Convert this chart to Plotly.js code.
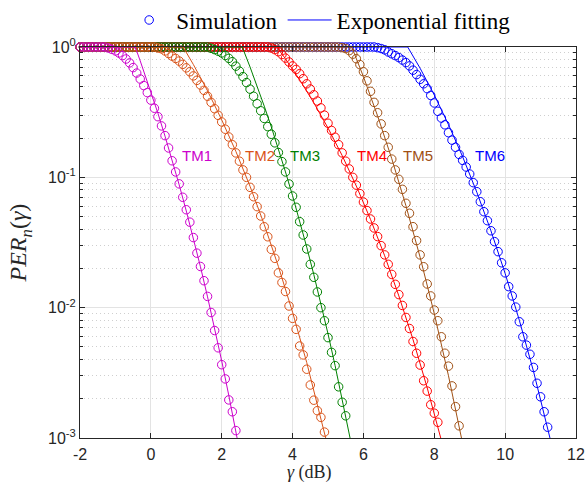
<!DOCTYPE html>
<html><head><meta charset="utf-8">
<script src="https://cdn.plot.ly/plotly-3.0.1.min.js"></script>
<style>html,body{margin:0;padding:0;background:#fff}</style>
</head><body>
<div id="chart" style="width:587px;height:484px"></div>
<script>
// SNR grid (dB) of the simulation points
const gammaDB = [
 -2,-1.9,-1.8,-1.7,-1.6,-1.5,-1.4,-1.3,-1.2,-1.1,
 -1,-0.9,-0.8,-0.7,-0.6,-0.5,-0.4,-0.3,-0.2,-0.1,
 0,0.1,0.2,0.3,0.4,0.5,0.6,0.7,0.8,0.9,
 1,1.1,1.2,1.3,1.4,1.5,1.6,1.7,1.8,1.9,
 2,2.1,2.2,2.3,2.4,2.5,2.6,2.7,2.8,2.9,
 3,3.1,3.2,3.3,3.4,3.5,3.6,3.7,3.8,3.9,
 4,4.1,4.2,4.3,4.4,4.5,4.6,4.7,4.8,4.9,
 5,5.1,5.2,5.3,5.4,5.5,5.6,5.7,5.8,5.9,
 6,6.1,6.2,6.3,6.4,6.5,6.6,6.7,6.8,6.9,
 7,7.1,7.2,7.3,7.4,7.5,7.6,7.7,7.8,7.9,
 8,8.1,8.2,8.3,8.4,8.5,8.6,8.7,8.8,8.9,
 9,9.1,9.2,9.3,9.4,9.5,9.6,9.7,9.8,9.9,
 10,10.1,10.2,10.3,10.4,10.5,10.6,10.7,10.8,10.9,
 11,11.1,11.2];

// Simulated PER (one value per grid point, starting at -2 dB)
const simTM1 = [
 1,1,1,1,1,1,1,1,
 0.982,0.959,0.933,0.900,0.859,0.809,0.755,0.695,0.631,0.568,
 0.506,0.447,0.391,0.339,0.292,0.248,0.209,0.168,0.134,0.110,
 0.0891,0.0703,0.0564,0.0453,0.0345,0.0262,0.0207,0.0161,0.0122,0.00918,
 0.00668,0.00492,0.00365,0.00284,0.00196,0.00159,0.00114];
const simTM2 = [
 1,1,1,1,1,1,1,1,1,1,
 1,1,1,1,1,1,1,1,1,1,
 1,1,
 0.982,0.968,0.933,0.891,0.851,0.817,0.780,0.736,0.692,0.646,
 0.600,0.555,0.511,0.465,0.419,0.376,0.336,0.299,0.266,0.234,
 0.204,0.178,0.154,0.133,0.114,0.100,0.0838,0.0710,0.0596,0.0505,
 0.0418,0.0350,0.0280,0.0239,0.0185,0.0156,0.0133,0.0103,0.00828,0.00682,
 0.00508,0.00434,0.00337,0.00255,0.00195,0.00162,0.00144,0.00111];
const simTM3 = [
 1,1,1,1,1,1,1,1,1,1,
 1,1,1,1,1,1,1,1,1,1,
 1,1,1,1,1,1,1,1,1,1,
 1,1,1,1,1,1,1,
 0.977,0.955,0.929,0.900,0.861,0.818,0.771,0.713,0.653,0.592,
 0.533,0.475,0.419,0.367,0.324,0.283,0.245,0.214,0.184,0.155,
 0.132,0.110,0.0889,0.0719,0.0589,0.0457,0.0361,0.0282,0.0215,0.0171,
 0.0132,0.0100,0.00794,0.00589,0.00454,0.00359,0.00247,0.00188,0.00148];
const simTM4 = [
 1,1,1,1,1,1,1,1,1,1,
 1,1,1,1,1,1,1,1,1,1,
 1,1,1,1,1,1,1,1,1,1,
 1,1,1,1,1,1,1,1,1,1,
 1,1,1,1,1,1,1,1,1,1,
 1,1,1,1,
 0.982,0.955,0.920,0.875,0.822,0.767,0.716,0.673,0.624,0.571,
 0.522,0.476,0.430,0.385,0.341,0.300,0.260,0.229,0.203,0.178,
 0.154,0.133,0.116,0.100,0.0871,0.0750,0.0646,0.0556,0.0479,0.0409,
 0.0351,0.0299,0.0254,0.0215,0.0180,0.0151,0.0126,0.0104,0.00841,0.00692,
 0.00550,0.00447,0.00363,0.00275,0.00229,0.00180,0.00155,0.00132];
const simTM5 = [
 1,1,1,1,1,1,1,1,1,1,
 1,1,1,1,1,1,1,1,1,1,
 1,1,1,1,1,1,1,1,1,1,
 1,1,1,1,1,1,1,1,1,1,
 1,1,1,1,1,1,1,1,1,1,
 1,1,1,1,1,1,1,1,1,1,
 1,1,1,1,1,1,1,1,1,1,
 1,1,1,1,
 0.989,0.973,0.938,0.881,0.813,0.733,0.646,0.550,0.457,0.376,
 0.313,0.257,0.209,0.170,0.138,0.114,0.0966,0.0809,0.0632,0.0530,
 0.0418,0.0327,0.0254,0.0206,0.0152,0.0123,0.00959,0.00794,0.00598,0.00447,
 0.00356,0.00251,0.00174,0.00124];
const simTM6 = [
 1,1,1,1,1,1,1,1,1,1,
 1,1,1,1,1,1,1,1,1,1,
 1,1,1,1,1,1,1,1,1,1,
 1,1,1,1,1,1,1,1,1,1,
 1,1,1,1,1,1,1,1,1,1,
 1,1,1,1,1,1,1,1,1,1,
 1,1,1,1,1,1,1,1,1,1,
 1,1,1,1,1,1,1,1,1,1,
 1,1,1,1,
 0.989,0.973,0.951,0.916,0.887,0.859,0.830,0.794,0.759,0.716,
 0.664,0.614,0.565,0.522,0.479,0.425,0.372,0.321,0.285,0.253,
 0.220,0.193,0.170,0.150,0.135,0.120,0.106,0.0910,0.0776,0.0650,
 0.0545,0.0465,0.0389,0.0321,0.0269,0.0221,0.0185,0.0145,0.0123,0.0101,
 0.00780,0.00598,0.00516,0.00439,0.00348,0.00263,0.00207,0.00159,0.00121];

// Exponential fitting curves
const fitXTM1 = [-2,-0.44,-0.3,-0.2,0,0.2,0.4,0.6,0.8,1.0,1.2,1.4,1.6,1.8,2.0,2.2,2.4,2.5];
const fitYTM1 = [1,1,0.782,0.655,0.454,0.310,0.207,0.136,0.0875,0.0552,0.0341,0.0206,0.0121,0.00697,0.0039,0.00212,0.00112,0.00081];
const fitXTM2 = [-2,0.91,1.2,1.6,2.0,2.4,2.8,3.2,3.6,4.0,4.4,4.8,5.0];
const fitYTM2 = [1,1,0.734,0.461,0.276,0.158,0.0853,0.0435,0.0207,0.00923,0.00379,0.00143,0.00085];
const fitXTM3 = [-2,2.58,2.8,3.0,3.2,3.4,3.6,3.8,4.0,4.2,4.4,4.6,4.8,5.0,5.2,5.4,5.6,5.7];
const fitYTM3 = [1,1,0.702,0.501,0.352,0.244,0.166,0.110,0.0723,0.0463,0.0291,0.0179,0.0107,0.0063,0.0036,0.002,0.00109,0.00079];
const fitXTM4 = [-2,3.56,3.8,4.2,4.6,5.0,5.4,5.8,6.2,6.6,7.0,7.4,7.8,8.2];
const fitYTM4 = [1,1,0.811,0.560,0.373,0.239,0.147,0.0857,0.0476,0.025,0.0123,0.00569,0.00243,0.000959];
const fitXTM5 = [-2,5.67,6.0,6.4,6.8,7.2,7.6,8.0,8.4,8.8];
const fitYTM5 = [1,1,0.592,0.296,0.139,0.0605,0.0244,0.00899,0.00301,0.000906];
const fitXTM6 = [-2,7.25,7.6,8.0,8.4,8.8,9.2,9.6,10.0,10.4,10.8,11.2,11.4];
const fitYTM6 = [1,1,0.687,0.428,0.254,0.144,0.0769,0.0388,0.0183,0.00802,0.00325,0.00121,0.000711];

const modeNames = ['TM1','TM2','TM3','TM4','TM5','TM6'];
const modeColors = ['rgb(204,0,204)','rgb(217,83,25)','rgb(0,128,0)','rgb(255,0,0)','rgb(160,80,20)','rgb(0,0,255)'];
const labelX = [0.82, 2.61, 3.88, 5.77, 7.05, 9.08];
const labelLogY = -0.836;

const xTickVals = [-2,0,2,4,6,8,10,12];
const xTickText = ['-2','0','2','4','6','8','10','12'];
const yTickVals = [0.001,0.01,0.1,1];
const yTickText = ['10<sup>-3</sup>','10<sup>-2</sup>','10<sup>-1</sup>','10<sup>0</sup>'];
const yMinorVals = [0.002,0.003,0.004,0.005,0.006,0.007,0.008,0.009,
                    0.02,0.03,0.04,0.05,0.06,0.07,0.08,0.09,
                    0.2,0.3,0.4,0.5,0.6,0.7,0.8,0.9];

const sims = [simTM1,simTM2,simTM3,simTM4,simTM5,simTM6];
const fitsX = [fitXTM1,fitXTM2,fitXTM3,fitXTM4,fitXTM5,fitXTM6];
const fitsY = [fitYTM1,fitYTM2,fitYTM3,fitYTM4,fitYTM5,fitYTM6];

const traces = [];
for (let i = 5; i >= 0; i--) {
  traces.push({
    x: gammaDB.slice(0, sims[i].length), y: sims[i],
    type: 'scatter', mode: 'markers', cliponaxis: false,
    name: 'Simulation', showlegend: i === 5,
    marker: {symbol: 'circle-open', size: 8.5, color: modeColors[i], line: {width: 1, color: modeColors[i]}},
    hoverinfo: 'skip'
  });
  traces.push({
    x: fitsX[i], y: fitsY[i], type: 'scatter', mode: 'lines',
    name: 'Exponential fitting', showlegend: i === 5,
    line: {color: modeColors[i], width: 1}, hoverinfo: 'skip'
  });
}

const annotations = modeNames.map((n, i) => ({
  x: labelX[i], y: labelLogY, xref: 'x', yref: 'y', text: n, showarrow: false,
  xanchor: 'left', yanchor: 'middle',
  font: {family: 'Liberation Sans, Arial, sans-serif', size: 15, color: modeColors[i]}
}));
annotations.push({
  xref: 'paper', yref: 'paper', x: 0.462, y: -0.089, showarrow: false,
  xanchor: 'center', yanchor: 'middle', text: '<i>γ</i> (dB)',
  font: {family: 'Liberation Serif, serif', size: 18, color: '#262626'}
});
annotations.push({
  xref: 'paper', yref: 'paper', x: -0.121, y: 0.5, showarrow: false, textangle: -90,
  xanchor: 'center', yanchor: 'middle', text: '<i>PER</i><sub><i>n</i></sub>(<i>γ</i>)',
  font: {family: 'Liberation Serif, serif', size: 24, color: '#262626'}
});

const axisCommon = {
  showline: true, linecolor: '#262626', linewidth: 1, mirror: 'ticks',
  ticks: 'inside', ticklen: 5, tickcolor: '#262626', tickwidth: 1,
  showgrid: true, gridcolor: '#e3e3e3', gridwidth: 1, zeroline: false,
  tickfont: {family: 'Liberation Sans, Arial, sans-serif', size: 16, color: '#262626'}
};

const layout = {
  width: 587, height: 484,
  margin: {l: 80, r: 11, t: 47, b: 46, autoexpand: false},
  paper_bgcolor: '#fff', plot_bgcolor: '#fff',
  showlegend: true,
  legend: {orientation: 'h', x: 0.085, xanchor: 'left', y: 1.069, yanchor: 'middle',
           font: {family: 'Liberation Serif, serif', size: 23, color: '#000'},
           bgcolor: 'rgba(0,0,0,0)', itemwidth: 44, tracegroupgap: 0},
  xaxis: Object.assign({}, axisCommon, {
    range: [-2, 12], tickmode: 'array', tickvals: xTickVals, ticktext: xTickText,
    ticklabelstandoff: 2
  }),
  yaxis: Object.assign({}, axisCommon, {
    type: 'log', range: [-3, 0], tickmode: 'array', tickvals: yTickVals, ticktext: yTickText,
    minor: {tickmode: 'array', tickvals: yMinorVals, ticks: 'inside', ticklen: 3,
            tickcolor: '#262626', showgrid: true, gridcolor: '#cfcfcf', griddash: '1px,3px', gridwidth: 1}
  }),
  annotations: annotations
};

Plotly.newPlot('chart', traces, layout, {displayModeBar: false, staticPlot: true});
</script>
</body></html>
